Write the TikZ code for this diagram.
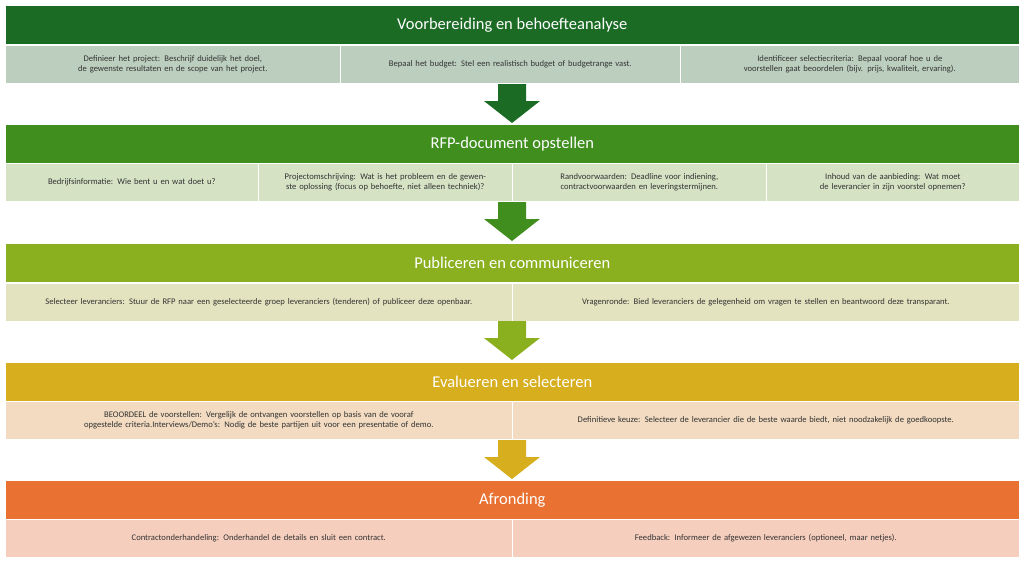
\documentclass[tikz,border=0pt]{standalone}
\usepackage{fontspec}
\setmainfont{Carlito}
\begin{document}
\begin{tikzpicture}[x=1pt,y=-1pt,
 hdr/.style={draw=white,line width=0.6pt,minimum height=39pt,minimum width=1014pt,anchor=north west,inner sep=0pt,text=white,font=\fontsize{16.5}{18}\selectfont},
 sub/.style={draw=white,line width=0.6pt,minimum height=38pt,anchor=north west,inner sep=2pt,text=black!80,align=center,font=\fontsize{8.6}{10}\selectfont},
 arr/.style={fill=#1,draw=none}]
\useasboundingbox (0,0) rectangle (1024,562);
\definecolor{h1}{HTML}{1B6B25}\definecolor{s1}{HTML}{BCCFBE}
\definecolor{h2}{HTML}{3F8E1E}\definecolor{s2}{HTML}{D5E2C4}
\definecolor{h3}{HTML}{8AB020}\definecolor{s3}{HTML}{E4E3BF}
\definecolor{h4}{HTML}{D7AE1E}\definecolor{s4}{HTML}{F2DBC0}
\definecolor{h5}{HTML}{E97132}\definecolor{s5}{HTML}{F6CEBE}
\newcommand{\blockarrow}[2]{\fill[#2] (498,#1) -- (526,#1) -- (526,#1+17) -- (540,#1+17) -- (512,#1+39) -- (484,#1+17) -- (498,#1+17) -- cycle;}
% band 1
\node[hdr,fill=h1] (h1) at (5,5) {Voorbereiding en behoefteanalyse};
\node[sub,fill=s1,minimum width=335pt,text width=325pt] (a1) at (5,45) {Definieer het project: Beschrijf duidelijk het doel, de gewenste resultaten en de scope van het project.};
\node[sub,fill=s1,minimum width=340pt,text width=330pt] (a2) at (340,45) {Bepaal het budget: Stel een realistisch budget of budgetrange vast.};
\node[sub,fill=s1,minimum width=339pt,text width=325pt] (a3) at (680,45) {Identificeer selectiecriteria: Bepaal vooraf hoe u de voorstellen gaat beoordelen (bijv. prijs, kwaliteit, ervaring).};
\blockarrow{84}{h1}
% band 2
\node[hdr,fill=h2] (h2) at (5,124) {RFP-document opstellen};
\node[sub,fill=s2,minimum width=253pt,text width=240pt] (b1) at (5,163) {Bedrijfsinformatie: Wie bent u en wat doet u?};
\node[sub,fill=s2,minimum width=254pt,text width=225pt] (b2) at (258,163) {Projectomschrijving: Wat is het probleem en de gewenste oplossing (focus op behoefte, niet alleen techniek)?};
\node[sub,fill=s2,minimum width=254pt,text width=230pt] (b3) at (512,163) {Randvoorwaarden: Deadline voor indiening, contractvoorwaarden en leveringstermijnen.};
\node[sub,fill=s2,minimum width=253pt,text width=245pt] (b4) at (766,163) {Inhoud van de aanbieding: Wat moet de leverancier in zijn voorstel opnemen?};
\blockarrow{202}{h2}
% band 3
\node[hdr,fill=h3] (h3) at (5,243) {Publiceren en communiceren};
\node[sub,fill=s3,minimum width=507pt,text width=495pt] (c1) at (5,283) {Selecteer leveranciers: Stuur de RFP naar een geselecteerde groep leveranciers (tenderen) of publiceer deze openbaar.};
\node[sub,fill=s3,minimum width=507pt,text width=495pt] (c2) at (512,283) {Vragenronde: Bied leveranciers de gelegenheid om vragen te stellen en beantwoord deze transparant.};
\blockarrow{321}{h3}
% band 4
\node[hdr,fill=h4] (h4) at (5,362) {Evalueren en selecteren};
\node[sub,fill=s4,minimum width=507pt,text width=450pt] (d1) at (5,401) {BEOORDEEL de voorstellen: Vergelijk de ontvangen voorstellen op basis van de vooraf opgestelde criteria.Interviews/Demo's: Nodig de beste partijen uit voor een presentatie of demo.};
\node[sub,fill=s4,minimum width=507pt,text width=495pt] (d2) at (512,401) {Definitieve keuze: Selecteer de leverancier die de beste waarde biedt, niet noodzakelijk de goedkoopste.};
\blockarrow{440}{h4}
% band 5
\node[hdr,fill=h5] (h5) at (5,480) {Afronding};
\node[sub,fill=s5,minimum width=507pt,text width=495pt] (e1) at (5,519) {Contractonderhandeling: Onderhandel de details en sluit een contract.};
\node[sub,fill=s5,minimum width=507pt,text width=495pt] (e2) at (512,519) {Feedback: Informeer de afgewezen leveranciers (optioneel, maar netjes).};
\end{tikzpicture}
\end{document}
